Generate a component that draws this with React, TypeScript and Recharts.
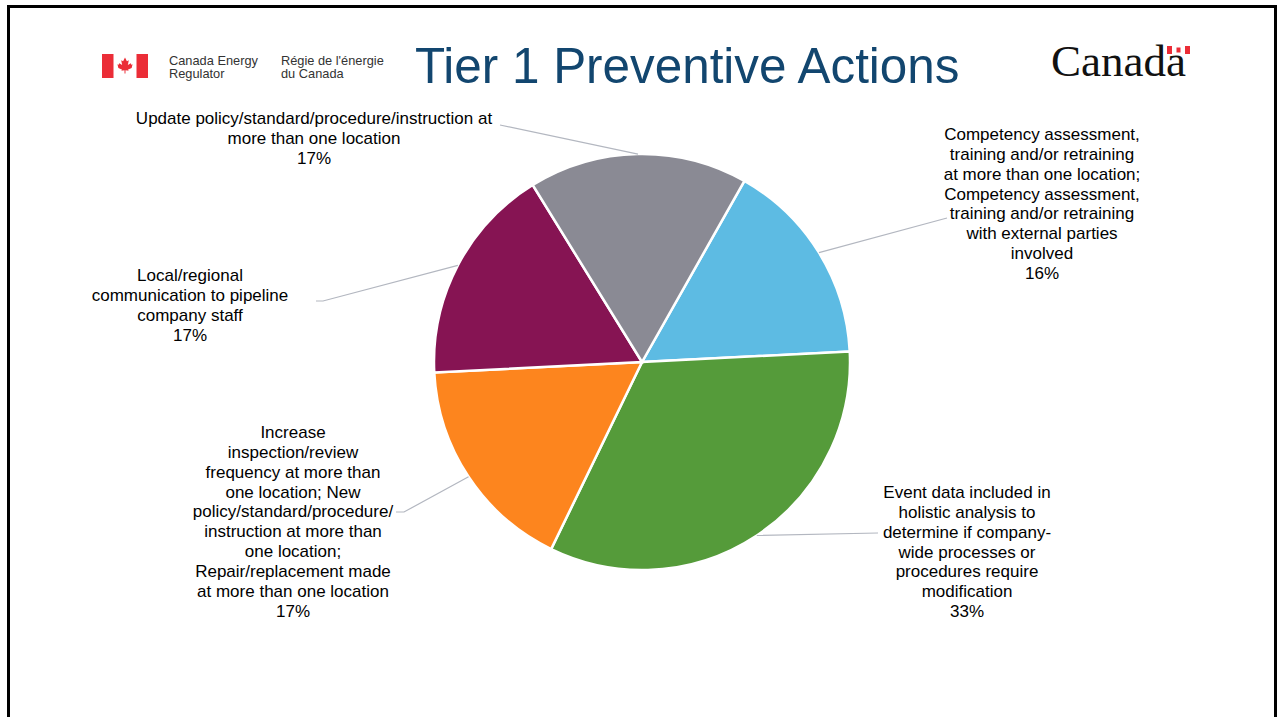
import React from 'react';
import { PieChart, Pie, Cell } from 'recharts';

// ---- data ----
const categories: string[] = [
  'Competency assessment, training and/or retraining at more than one location; Competency assessment, training and/or retraining with external parties involved',
  'Event data included in holistic analysis to determine if company-wide processes or procedures require modification',
  'Increase inspection/review frequency at more than one location; New policy/standard/procedure/instruction at more than one location; Repair/replacement made at more than one location',
  'Local/regional communication to pipeline company staff',
  'Update policy/standard/procedure/instruction at more than one location',
];
const percentages: number[] = [16, 33, 17, 17, 17];
const labelLines: string[][] = [
  [
    'Competency assessment,',
    'training and/or retraining',
    'at more than one location;',
    'Competency assessment,',
    'training and/or retraining',
    'with external parties',
    'involved',
  ],
  [
    'Event data included in',
    'holistic analysis to',
    'determine if company-',
    'wide processes or',
    'procedures require',
    'modification',
  ],
  [
    'Increase',
    'inspection/review',
    'frequency at more than',
    'one location; New',
    'policy/standard/procedure/',
    'instruction at more than',
    'one location;',
    'Repair/replacement made',
    'at more than one location',
  ],
  ['Local/regional', 'communication to pipeline', 'company staff'],
  ['Update policy/standard/procedure/instruction at', 'more than one location'],
];
const colors: string[] = ['#5DBBE3', '#559B3A', '#FD851E', '#861453', '#8A8A94'];

const chartData = categories.map((name, i) => ({
  name,
  value: percentages[i],
  lines: labelLines[i],
}));

// label layout (offsets from pie centre)
const LABEL_LAYOUT = [
  { tx: 400, ty: -228, ax: 305, ay: -144, stub: 0 },
  { tx: 325, ty: 130, ax: 236, ay: 171, stub: 0 },
  { tx: -349, ty: 70, ax: -246, ay: 150, stub: 8 },
  { tx: -452, ty: -87, ax: -326, ay: -61, stub: 7 },
  { tx: -328, ty: -244, ax: -142, ay: -237, stub: 0 },
];

const FONT = 'Arial, "Liberation Sans", Helvetica, sans-serif';
const LINE_H = 19.85;
const RADIAN = Math.PI / 180;

const renderLabel = (props: any) => {
  const { cx, cy, midAngle, outerRadius, index } = props;
  const lay = LABEL_LAYOUT[index];
  const d = chartData[index];
  const ex = cx + outerRadius * Math.cos(-midAngle * RADIAN);
  const ey = cy + outerRadius * Math.sin(-midAngle * RADIAN);
  const ax = cx + lay.ax;
  const ay = cy + lay.ay;
  const pts = lay.stub
    ? `${ax},${ay} ${ax + lay.stub},${ay} ${ex},${ey}`
    : `${ax},${ay} ${ex},${ey}`;
  const allLines = [...d.lines, `${percentages[index]}%`];
  return (
    <g key={`lbl-${index}`}>
      <polyline points={pts} fill="none" stroke="#B3B7C0" strokeWidth={1.2} />
      <text
        x={cx + lay.tx}
        y={cy + lay.ty}
        textAnchor="middle"
        fill="#000"
        fontFamily={FONT}
        fontSize={17}
      >
        {allLines.map((ln, i) => (
          <tspan key={i} x={cx + lay.tx} y={cy + lay.ty + i * LINE_H + 6}>
            {ln}
          </tspan>
        ))}
      </text>
    </g>
  );
};

const MapleLeaf = ({ x, y, s }: { x: number; y: number; s: number }) => (
  <path
    transform={`translate(${x},${y}) scale(${s})`}
    d="M0,-9 L-2,-5 L-4,-6 L-3,-1 L-6,-3 L-7,-1 L-8,-2 L-7,2 L-3,4 L-4,5 L-0.5,4.5 L-0.5,8 L0.5,8 L0.5,4.5 L4,5 L3,4 L7,2 L8,-2 L7,-1 L6,-3 L3,-1 L4,-6 L2,-5 Z"
    fill="#EB2D37"
  />
);

export default function App() {
  return (
    <div
      style={{
        position: 'absolute',
        left: 0,
        top: 0,
        width: 1277,
        height: 717,
        overflow: 'hidden',
        background: '#fff',
      }}
    >
      <div
        style={{
          position: 'absolute',
          left: 7,
          top: 5,
          width: 1270,
          height: 800,
          border: '3px solid #000',
          boxSizing: 'border-box',
        }}
      />
      {/* header */}
      <svg
        style={{ position: 'absolute', left: 0, top: 0 }}
        width={1277}
        height={110}
      >
        <rect x={102} y={54} width={11.5} height={24} fill="#EB2D37" />
        <rect x={136.5} y={54} width={11.5} height={24} fill="#EB2D37" />
        <MapleLeaf x={125} y={66} s={0.95} />
        <text x={169} y={65} fontFamily={FONT} fontSize={12.8} fill="#333">
          Canada Energy
        </text>
        <text x={169} y={78} fontFamily={FONT} fontSize={12.8} fill="#333">
          Regulator
        </text>
        <text x={281} y={65} fontFamily={FONT} fontSize={12.8} fill="#333">
          Régie de l'énergie
        </text>
        <text x={281} y={78} fontFamily={FONT} fontSize={12.8} fill="#333">
          du Canada
        </text>
        <text x={415} y={83} fontFamily={FONT} fontSize={49.4} fill="#12466F">
          Tier 1 Preventive Actions
        </text>
        <text
          x={1051}
          y={76}
          fontFamily='"Liberation Serif", "Times New Roman", serif'
          fontSize={45}
          fill="#111"
        >
          Canada
        </text>
        <rect x={1167} y={46} width={5} height={8} fill="#EB2D37" />
        <rect x={1185} y={46} width={5} height={8} fill="#EB2D37" />
        <rect x={1176.5} y={47.5} width={4} height={5} fill="#EB2D37" />
      </svg>
      <div style={{ position: 'absolute', left: 0, top: 0 }}>
        <PieChart
          width={1277}
          height={717}
          margin={{ top: 0, right: 0, bottom: 0, left: 0 }}
        >
          <Pie
            data={chartData}
            dataKey="value"
            nameKey="name"
            cx={642}
            cy={362}
            outerRadius={208}
            startAngle={60.5}
            endAngle={-299.5}
            stroke="#fff"
            strokeWidth={2.5}
            label={renderLabel}
            labelLine={false}
            isAnimationActive={false}
          >
            {chartData.map((d, i) => (
              <Cell key={d.name} fill={colors[i]} />
            ))}
          </Pie>
        </PieChart>
      </div>
    </div>
  );
}
